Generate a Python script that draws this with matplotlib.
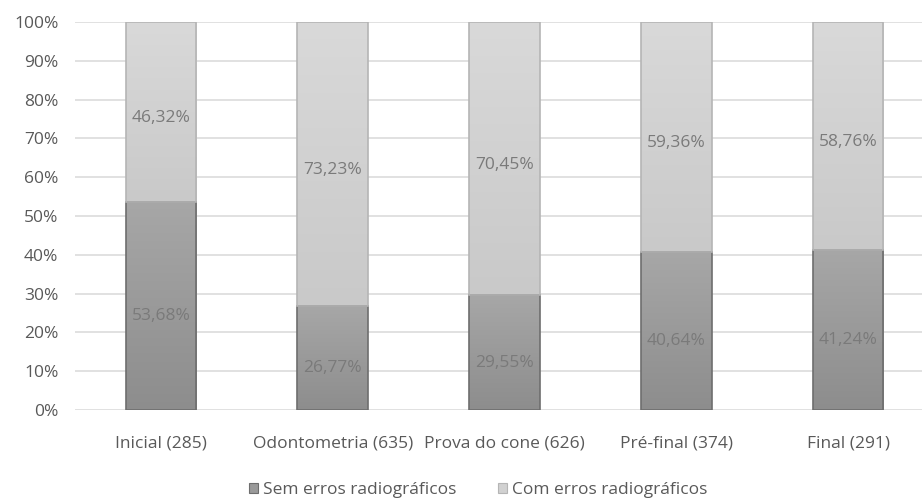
import numpy as np
import matplotlib
matplotlib.use("Agg")
import matplotlib.pyplot as plt
from matplotlib.colors import LinearSegmentedColormap
from matplotlib.patches import Patch

categories = ["Inicial (285)", "Odontometria (635)", "Prova do cone (626)",
              "Pré-final (374)", "Final (291)"]
sem_erros = [53.68, 26.77, 29.55, 40.64, 41.24]
com_erros = [46.32, 73.23, 70.45, 59.36, 58.76]
series_names = ["Sem erros radiográficos", "Com erros radiográficos"]
y_ticks = list(range(0, 101, 10))

plt.rcParams["font.family"] = ["Open Sans", "DejaVu Sans"]
FS = 12.5

fig = plt.figure(figsize=(9.22, 4.98), dpi=100)
ax = fig.add_axes([75 / 922, 88 / 498, 859 / 922, 388 / 498])

x = np.arange(len(categories))
width = 0.41

dark_cmap = LinearSegmentedColormap.from_list("dark", ["#8d8d8d", "#a7a7a7"])
light_cmap = LinearSegmentedColormap.from_list("light", ["#c9c9c9", "#d9d9d9"])
grad = np.linspace(0, 1, 256).reshape(-1, 1)


def gradient_fill(bars, cmap):
    for b in bars:
        x0, y0 = b.get_x(), b.get_y()
        w, h = b.get_width(), b.get_height()
        im = ax.imshow(grad, cmap=cmap, origin="lower", aspect="auto",
                       extent=(x0, x0 + w, y0, y0 + h), zorder=2.5,
                       interpolation="bilinear")
        im.set_clip_path(b)


bars_sem = ax.bar(x, sem_erros, width, color="#9a9a9a", edgecolor="#6e6e6e",
                  linewidth=1.2, zorder=2)
bars_com = ax.bar(x, com_erros, width, bottom=sem_erros, color="#d1d1d1",
                  edgecolor="#b5b5b5", linewidth=1.2, zorder=2)
gradient_fill(bars_sem, dark_cmap)
gradient_fill(bars_com, light_cmap)
# redraw outlines above the gradient fills
for b in list(bars_sem) + list(bars_com):
    b.set_zorder(3)
    b.set_facecolor("none")

ax.set_xlim(-0.5, len(categories) - 0.5)
ax.set_ylim(0, 100)
ax.set_yticks(y_ticks)
ax.set_yticklabels([f"{t}%" for t in y_ticks])
ax.set_xticks(x)
ax.set_xticklabels(categories)
ax.tick_params(axis="both", length=0, labelsize=FS, labelcolor="#595959")
ax.tick_params(axis="y", pad=12)
ax.tick_params(axis="x", pad=18)
ax.grid(axis="y", color="#d9d9d9", linewidth=1.1, zorder=0)
ax.set_axisbelow(True)
for s in ax.spines.values():
    s.set_visible(False)

fmt = lambda v: f"{v:.2f}%".replace(".", ",")
for i in range(len(categories)):
    ax.annotate(fmt(sem_erros[i]), (x[i], sem_erros[i] / 2), xytext=(0, -10),
                textcoords="offset pixels", ha="center", va="center",
                fontsize=FS, color="#7a7a7a", zorder=4)
    ax.annotate(fmt(com_erros[i]), (x[i], sem_erros[i] + com_erros[i] / 2),
                xytext=(0, -6), textcoords="offset pixels", ha="center",
                va="center", fontsize=FS, color="#7a7a7a", zorder=4)

handles = [Patch(facecolor="#9a9a9a", edgecolor="#6e6e6e", linewidth=0.8),
           Patch(facecolor="#d1d1d1", edgecolor="#b5b5b5", linewidth=0.8)]
fig.legend(handles, series_names, loc="center", bbox_to_anchor=(478 / 922, 1 - 490 / 498),
           ncol=2, frameon=False, fontsize=FS, labelcolor="#595959",
           handlelength=0.55, handleheight=0.55, handletextpad=0.25, columnspacing=2.4,
           borderpad=0.0)

fig.savefig("out.png", dpi=100)
